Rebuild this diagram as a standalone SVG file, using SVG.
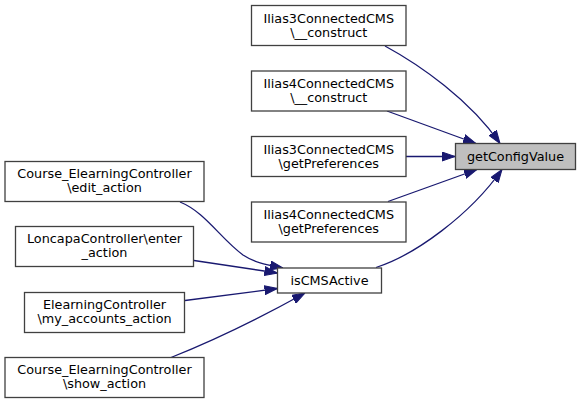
<svg xmlns="http://www.w3.org/2000/svg" width="580" height="404" viewBox="0 0 580 404">
<style>
  .node rect { fill: #ffffff; stroke: #404040; stroke-width: 1.3; }
  .node.root rect { fill: #bfbfbf; }
  .node text { font-family: "DejaVu Sans", sans-serif; font-size: 12.8px; fill: #000000; text-anchor: middle; }
  .edges path { fill: none; stroke: #191970; stroke-width: 1.3; marker-end: url(#arrow); }
</style>
<defs>
  <marker id="arrow" viewBox="0 0 13 10" refX="13" refY="5" markerWidth="13" markerHeight="10" markerUnits="userSpaceOnUse" orient="auto">
    <path d="M0,0.5 L13,5 L0,9.5 z" fill="#191970" stroke="#191970" stroke-width="1"/>
  </marker>
</defs>
<g class="edges">
  <path d="M385,46 C420,65 470,100 500,143.5"/>
  <path d="M387,111 L476,143.5"/>
  <path d="M406,156.5 L455,156.5"/>
  <path d="M388,201.5 L477,169.5"/>
  <path d="M376,267.5 C415,255 470,215 502,169.5"/>
  <path d="M180,202 C205,212 220,238 243,255 C255,263 268,265 283,268"/>
  <path d="M194,260.5 L277.5,273"/>
  <path d="M185,300.5 L277.5,288.5"/>
  <path d="M171,357.5 C210,342 260,318 305,293"/>
</g>
<g id="getConfigValue" class="node root">
  <rect x="455.5" y="143.5" width="120" height="26"/>
  <text x="515.5" y="160.5">getConfigValue</text>
</g>
<g id="ilias3_construct" class="node">
  <rect x="251.5" y="5.5" width="154.5" height="40"/>
  <text x="328.75" y="22.5">Ilias3ConnectedCMS</text>
  <text x="328.75" y="36.5">\__construct</text>
</g>
<g id="ilias4_construct" class="node">
  <rect x="251.5" y="71" width="154.5" height="40"/>
  <text x="328.75" y="88">Ilias4ConnectedCMS</text>
  <text x="328.75" y="102">\__construct</text>
</g>
<g id="ilias3_getPreferences" class="node">
  <rect x="251.5" y="136.5" width="154.5" height="40"/>
  <text x="328.75" y="153.5">Ilias3ConnectedCMS</text>
  <text x="328.75" y="167.5">\getPreferences</text>
</g>
<g id="ilias4_getPreferences" class="node">
  <rect x="251.5" y="202" width="154.5" height="40"/>
  <text x="328.75" y="219">Ilias4ConnectedCMS</text>
  <text x="328.75" y="233">\getPreferences</text>
</g>
<g id="isCMSActive" class="node">
  <rect x="277.5" y="268" width="104" height="25"/>
  <text x="329.5" y="284.5">isCMSActive</text>
</g>
<g id="edit_action" class="node">
  <rect x="5" y="161.5" width="199" height="40"/>
  <text x="104.5" y="178">Course_ElearningController</text>
  <text x="104.5" y="192">\edit_action</text>
</g>
<g id="enter_action" class="node">
  <rect x="15.5" y="226.5" width="178" height="40"/>
  <text x="104.5" y="243">LoncapaController\enter</text>
  <text x="104.5" y="257">_action</text>
</g>
<g id="my_accounts_action" class="node">
  <rect x="24.5" y="292.5" width="160" height="40"/>
  <text x="104.5" y="309">ElearningController</text>
  <text x="104.5" y="323">\my_accounts_action</text>
</g>
<g id="show_action" class="node">
  <rect x="5" y="357.5" width="199" height="40"/>
  <text x="104.5" y="374">Course_ElearningController</text>
  <text x="104.5" y="388">\show_action</text>
</g>
</svg>
